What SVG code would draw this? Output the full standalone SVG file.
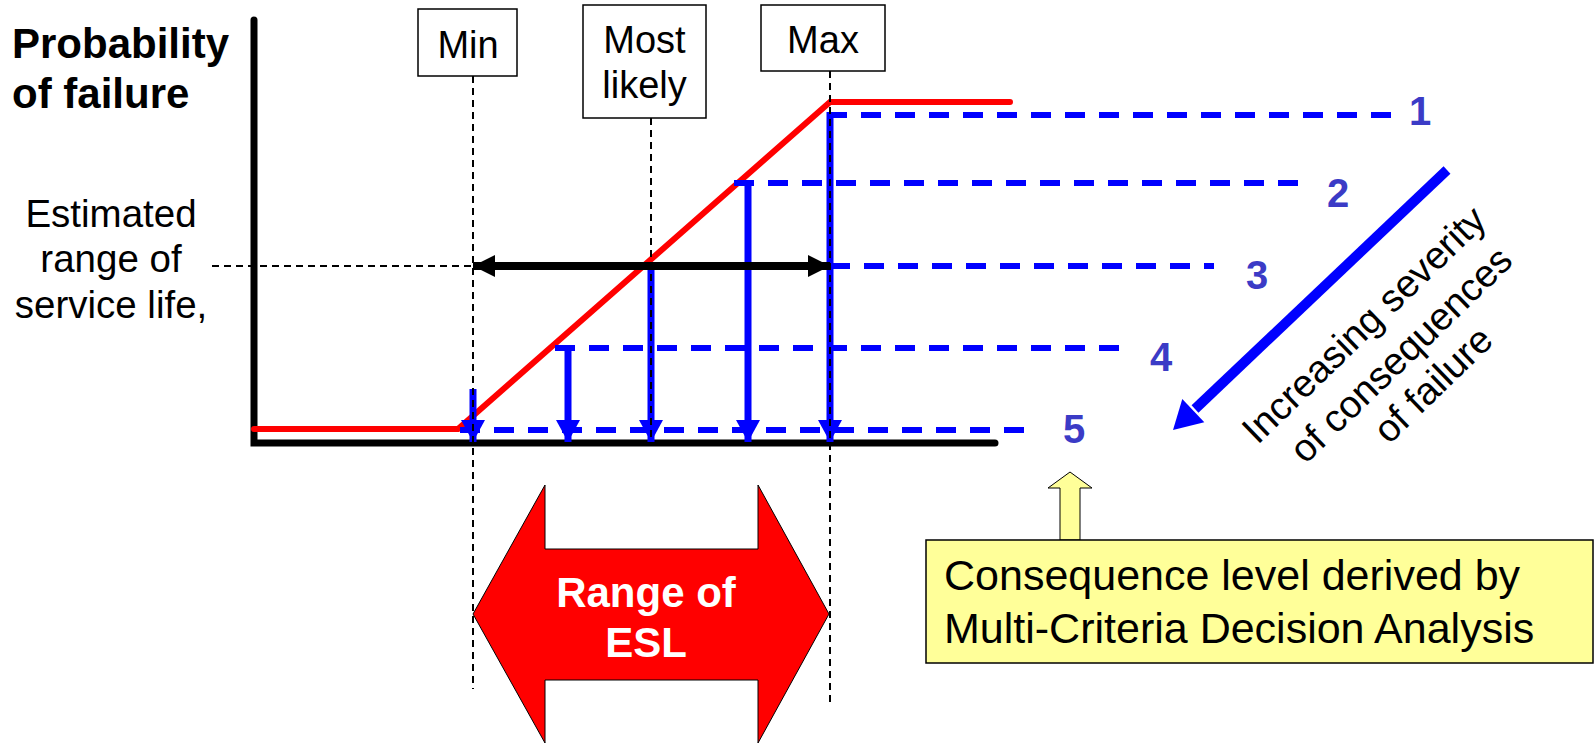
<svg xmlns="http://www.w3.org/2000/svg" width="1595" height="745" viewBox="0 0 1595 745">
  <style>
    .sans { font-family: "Liberation Sans", Arial, sans-serif; }
    .guide { stroke: #000; stroke-width: 2; stroke-dasharray: 7 5; fill: none; }
    .level { stroke: #0000FF; stroke-width: 6; stroke-dasharray: 20 14; fill: none; }
    .drop { stroke: #0000FF; stroke-width: 7; fill: none; marker-end: url(#blueHead); }
    .box { fill: #fff; stroke: #000; stroke-width: 1.5; }
    .boxtext { font-size: 38px; fill: #000; text-anchor: middle; }
    .num { font-size: 40px; font-weight: bold; fill: #3B3BC6; text-anchor: middle; }
  </style>
  <defs>
    <marker id="blueHead" markerUnits="userSpaceOnUse" markerWidth="24" markerHeight="24" refX="22" refY="12" orient="auto">
      <path d="M0,0 L22,12 L0,24 Z" fill="#0000FF"/>
    </marker>
    <marker id="blackHead" markerUnits="userSpaceOnUse" markerWidth="22" markerHeight="22" refX="22" refY="11" orient="auto-start-reverse">
      <path d="M0,0 L22,11 L0,22 Z" fill="#000"/>
    </marker>
  </defs>

  <!-- axis labels -->
  <g id="axis-label" class="sans" font-size="42" font-weight="bold">
    <text x="12" y="58">Probability</text>
    <text x="12" y="108">of failure</text>
  </g>
  <g id="esl-label" class="sans" font-size="38.5" text-anchor="middle">
    <text x="111" y="227">Estimated</text>
    <text x="111" y="272">range of</text>
    <text x="111" y="318">service life,</text>
  </g>

  <!-- axes -->
  <g id="axes" stroke="#000" stroke-width="7" stroke-linecap="round" fill="none">
    <path d="M254,20 L254,443 L995,443"/>
  </g>

  <!-- failure probability curve -->
  <g id="curve">
    <path d="M254,429 L458,429 L830,102 L1010,102" fill="none" stroke="#FF0000" stroke-width="6" stroke-linecap="round" stroke-linejoin="miter"/>
  </g>

  <!-- consequence levels and drops to the time axis -->
  <g id="connectors">
    <path class="level" d="M827,115 L1393,115"/>
    <path class="level" d="M734,183 L1311,183"/>
    <path class="level" d="M830,266 L1214,266"/>
    <path class="level" d="M555,348 L1131,348"/>
    <path class="level" d="M460,430 L1036,430"/>
    <path class="drop" d="M830,112 L830,442"/>
    <path class="drop" d="M748,180 L748,442"/>
    <path class="drop" d="M651,266 L651,442"/>
    <path class="drop" d="M568,345 L568,442"/>
    <path class="drop" d="M473,389 L473,442"/>

    <!-- service life range arrow -->
    <path d="M473,266 L830,266" stroke="#000" stroke-width="8" fill="none" marker-start="url(#blackHead)" marker-end="url(#blackHead)"/>

    <!-- guide lines -->
    <path class="guide" d="M212,266 L473,266"/>
    <path class="guide" d="M473,76 L473,689"/>
    <path class="guide" d="M651,118 L651,440"/>
    <path class="guide" d="M830,71 L830,702"/>

    <!-- severity direction arrow -->
    <path d="M1447,170 L1195,409" stroke="#0000FF" stroke-width="10" fill="none"/>
    <path d="M1173,430 L1182.3,399.1 L1204.3,422.3 Z" fill="#0000FF"/>
  </g>

  <!-- guide boxes -->
  <g id="min-box" class="sans">
    <rect class="box" x="418" y="9" width="99" height="67"/>
    <text class="boxtext" x="468" y="58">Min</text>
  </g>
  <g id="likely-box" class="sans">
    <rect class="box" x="583" y="5" width="123" height="113"/>
    <text class="boxtext" x="644.5" y="53">Most</text>
    <text class="boxtext" x="644.5" y="98">likely</text>
  </g>
  <g id="max-box" class="sans">
    <rect class="box" x="761" y="5" width="124" height="66"/>
    <text class="boxtext" x="823" y="53">Max</text>
  </g>

  <!-- level numbers -->
  <g id="levels" class="sans">
    <text class="num" x="1420" y="125">1</text>
    <text class="num" x="1338" y="207">2</text>
    <text class="num" x="1257" y="289">3</text>
    <text class="num" x="1161" y="371">4</text>
    <text class="num" x="1074" y="443">5</text>
  </g>

  <!-- severity note -->
  <g id="severity-label" class="sans" font-size="38.5" text-anchor="middle">
    <text transform="translate(1373,334) rotate(-44)">Increasing severity</text>
    <text transform="translate(1410,364) rotate(-44)">of consequences</text>
    <text transform="translate(1442,394) rotate(-44)">of failure</text>
  </g>

  <!-- range of ESL block arrow -->
  <g id="esl-range">
    <path d="M473,614 L545,485 L545,549 L758,549 L758,485 L829,614 L758,743 L758,680 L545,680 L545,743 Z" fill="#FF0000" stroke="#000" stroke-width="1"/>
    <text class="sans" x="646" y="607" font-size="42" font-weight="bold" fill="#fff" text-anchor="middle">Range of</text>
    <text class="sans" x="646" y="657" font-size="42" font-weight="bold" fill="#fff" text-anchor="middle">ESL</text>
  </g>

  <!-- MCDA callout -->
  <g id="mcda-note">
    <path d="M1060,540 L1060,488 L1048,488 L1070,472 L1092,488 L1080,488 L1080,540 Z" fill="#FFFF99" stroke="#000" stroke-width="1"/>
    <rect x="926" y="540" width="667" height="123" fill="#FFFF99" stroke="#000" stroke-width="1.5"/>
    <text class="sans" x="944" y="590" font-size="43">Consequence level derived by</text>
    <text class="sans" x="944" y="643" font-size="43">Multi-Criteria Decision Analysis</text>
  </g>
</svg>
